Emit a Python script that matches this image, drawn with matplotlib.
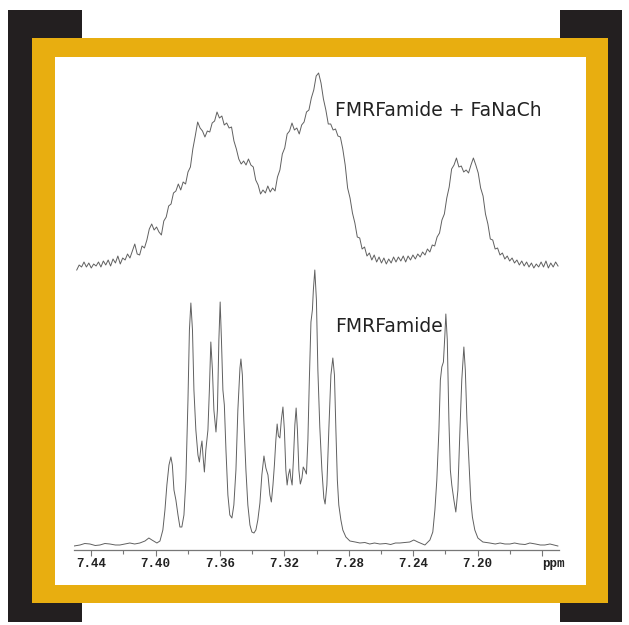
import numpy as np
import matplotlib
matplotlib.use('Agg')
import matplotlib.pyplot as plt
from matplotlib.patches import Rectangle

# lower trace: FMRFamide (ppm, intensity)
lower_ppm = [7.4507, 7.4470, 7.4440, 7.4408, 7.4375, 7.4346, 7.4315, 7.4284, 7.4250, 7.4222,
             7.4190, 7.4160, 7.4130, 7.4098, 7.4066, 7.4042, 7.4023, 7.3992, 7.3973, 7.3955,
             7.3942, 7.3930, 7.3917, 7.3905, 7.3896, 7.3886, 7.3874, 7.3861, 7.3849, 7.3837,
             7.3824, 7.3812, 7.3799, 7.3790, 7.3781, 7.3771, 7.3762, 7.3750, 7.3737, 7.3728,
             7.3719, 7.3712, 7.3706, 7.3697, 7.3688, 7.3675, 7.3666, 7.3657, 7.3647, 7.3638,
             7.3625, 7.3616, 7.3607, 7.3599, 7.3591, 7.3582, 7.3573, 7.3563, 7.3551, 7.3539,
             7.3526, 7.3514, 7.3501, 7.3489, 7.3476, 7.3470, 7.3461, 7.3452, 7.3439, 7.3427,
             7.3414, 7.3402, 7.3389, 7.3377, 7.3365, 7.3352, 7.3340, 7.3327, 7.3315, 7.3302,
             7.3290, 7.3281, 7.3271, 7.3262, 7.3253, 7.3245, 7.3237, 7.3228, 7.3219, 7.3209,
             7.3200, 7.3191, 7.3183, 7.3175, 7.3166, 7.3160, 7.3152, 7.3144, 7.3135, 7.3127,
             7.3119, 7.3110, 7.3101, 7.3091, 7.3083, 7.3073, 7.3063, 7.3054, 7.3045, 7.3035,
             7.3026, 7.3020, 7.3011, 7.3001, 7.2992, 7.2980, 7.2967, 7.2955, 7.2947, 7.2936,
             7.2924, 7.2911, 7.2899, 7.2889, 7.2880, 7.2871, 7.2862, 7.2849, 7.2837, 7.2818,
             7.2793, 7.2760, 7.2731, 7.2700, 7.2670, 7.2640, 7.2607, 7.2570, 7.2540, 7.2510,
             7.2483, 7.2450, 7.2421, 7.2396, 7.2371, 7.2327, 7.2296, 7.2278, 7.2265, 7.2253,
             7.2240, 7.2231, 7.2222, 7.2212, 7.2203, 7.2197, 7.2188, 7.2178, 7.2169, 7.2160,
             7.2147, 7.2135, 7.2122, 7.2110, 7.2098, 7.2085, 7.2076, 7.2066, 7.2054, 7.2042,
             7.2032, 7.2017, 7.1998, 7.1967, 7.1924, 7.1890, 7.1860, 7.1830, 7.1799, 7.1770,
             7.1740, 7.1705, 7.1675, 7.1640, 7.1610, 7.1582, 7.1550, 7.1501]
lower_int = [-1, 0, 1.5, 1, -0.5, 0, 1.5, 1, 0, 0,
             1, 2, 1, 2, 4, 7, 5, 2, 4, 15,
             35, 60, 80, 88, 80, 55, 45, 30, 18, 18,
             30, 65, 145, 215, 242, 215, 155, 115, 90, 83,
             97, 104, 90, 73, 95, 115, 155, 203, 175, 135,
             113, 135, 205, 243, 205, 155, 140, 95, 50, 30,
             27, 40, 75, 135, 177, 186, 170, 125, 75, 40,
             20, 13, 12, 15, 25, 42, 70, 89, 77, 70,
             50, 43, 60, 80, 105, 121, 109, 107, 125, 138,
             115, 75, 60, 70, 76, 67, 60, 85, 120, 137,
             115, 75, 61, 67, 78, 75, 71, 105, 165, 223,
             235, 255, 275, 245, 175, 118, 75, 47, 41, 60,
             115, 170, 187, 170, 115, 65, 40, 25, 15, 8,
             4, 3, 2, 2.5, 1, 2, 1, 1.5, 0.5, 2,
             2, 2.5, 3, 5, 3, 0, 5, 13, 35, 65,
             115, 165, 178, 183, 210, 231, 205, 125, 75, 60,
             45, 33, 55, 112, 165, 198, 175, 125, 85, 45,
             28, 15, 7, 3, 2, 1, 2, 1, 1, 2,
             1, 0.5, 2, 1, 0, 0, 1, -1]

# upper trace: FMRFamide + FaNaCh, sampled evenly from 7.449 to 7.150 ppm
upper_int = [-2, 3, 1, 6, 1, 5, 0, 4, 2, 6,
             1, 7, 3, 8, 2, 9, 5, 12, 4, 10,
             8, 14, 10, 17, 24, 14, 13, 22, 20, 28,
             39, 44, 38, 41, 36, 33, 47, 51, 62, 64,
             75, 77, 84, 78, 86, 84, 96, 101, 119, 132,
             146, 140, 137, 131, 137, 136, 145, 147, 156, 150,
             152, 143, 145, 140, 141, 127, 119, 109, 104, 107,
             103, 109, 103, 101, 88, 83, 74, 78, 75, 82,
             76, 80, 77, 91, 98, 114, 120, 134, 137, 145,
             138, 140, 134, 143, 146, 156, 158, 170, 178, 192,
             195, 185, 169, 158, 144, 144, 138, 139, 132, 131,
             119, 103, 80, 70, 55, 45, 31, 30, 19, 21,
             12, 15, 8, 13, 6, 11, 5, 10, 4, 9,
             5, 11, 6, 11, 7, 12, 6, 12, 8, 13,
             9, 14, 11, 16, 13, 19, 16, 23, 22, 31,
             35, 48, 54, 70, 81, 99, 103, 110, 101, 102,
             96, 98, 95, 103, 110, 103, 95, 80, 72, 54,
             44, 29, 28, 19, 20, 13, 15, 9, 12, 7,
             10, 5, 8, 3, 7, 2, 6, 1, 5, 0,
             4, 1, 6, 1, 7, 0, 5, 1, 6, 2]
upper_offset = 277

tick_vals = [7.44, 7.40, 7.36, 7.32, 7.28, 7.24, 7.20, 7.16]
tick_labels = ['7.44', '7.40', '7.36', '7.32', '7.28', '7.24', '7.20', 'ppm']
minor_vals = [7.42, 7.38, 7.34, 7.30, 7.26, 7.22, 7.18]

W, H = 629, 625
fig = plt.figure(figsize=(W / 100, H / 100), dpi=100)
fig.set_facecolor('white')

def px_rect(x0, y0, x1, y1, color):
    # pixel box (top-left origin) -> figure rectangle
    r = Rectangle((x0 / W, 1 - y1 / H), (x1 - x0) / W, (y1 - y0) / H,
                  transform=fig.transFigure, facecolor=color, edgecolor='none', zorder=0)
    fig.add_artist(r)

black = '#231f20'
gold = '#e8ae10'
px_rect(8, 10, 82, 622, black)
px_rect(560, 10, 622, 622, black)
px_rect(32, 38, 608, 603, gold)
px_rect(55, 57, 586, 585, 'white')

ax = fig.add_axes([74 / W, 75 / H, 485 / W, 490 / H])
ax.set_zorder(5)
ax.patch.set_visible(False)

upper_ppm = np.linspace(7.449, 7.150, len(upper_int))
line_col = '#606060'
ax.plot(lower_ppm, lower_int, color=line_col, lw=0.7)
ax.plot(upper_ppm, np.array(upper_int) + upper_offset, color=line_col, lw=0.7)

ax.set_xlim(7.4507, 7.1494)
ax.set_ylim(-5, 485)

for s in ['top', 'left', 'right']:
    ax.spines[s].set_visible(False)
ax.spines['bottom'].set_color('#777777')
ax.spines['bottom'].set_linewidth(0.9)
ax.set_yticks([])
ax.set_xticks(tick_vals)
ax.set_xticklabels(tick_labels, family='Liberation Mono', fontweight='bold',
                   fontsize=9, color='#222222')
ax.get_xticklabels()[-1].set_ha('left')
ax.set_xticks(minor_vals, minor=True)
ax.tick_params(axis='x', which='major', direction='out', length=4, width=0.8,
               color='#777777', pad=2)
ax.tick_params(axis='x', which='minor', direction='out', length=3, width=0.8,
               color='#777777')

ax.text(7.2886, 429, 'FMRFamide + FaNaCh', fontsize=13.5, color='#222222',
        ha='left', va='baseline')
ax.text(7.2886, 213, 'FMRFamide', fontsize=13.5, color='#222222',
        ha='left', va='baseline')

fig.savefig('out.png', dpi=100)
